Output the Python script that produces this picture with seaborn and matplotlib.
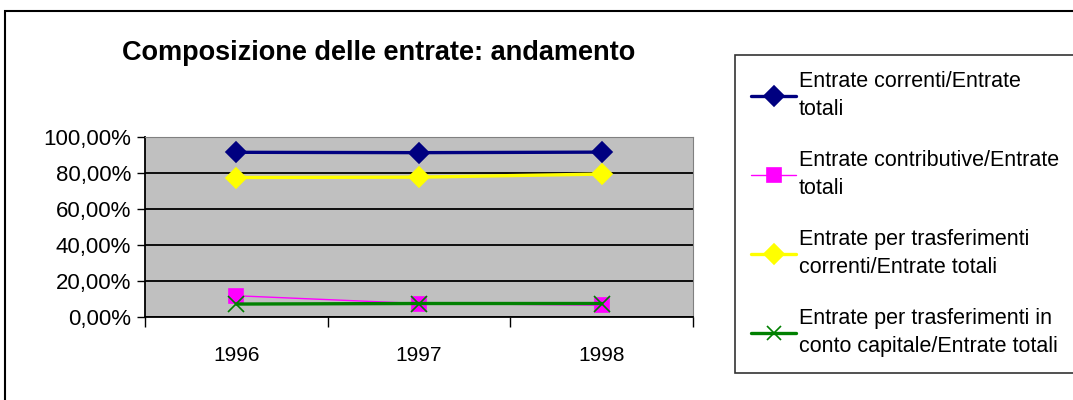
import pandas as pd
import numpy as np
import matplotlib
matplotlib.use('Agg')
import matplotlib.pyplot as plt
import seaborn as sns
from matplotlib.patches import Rectangle
from matplotlib.lines import Line2D
from matplotlib.ticker import FuncFormatter

# ============ DATI ============
anni = ['1996', '1997', '1998']
serie = [
    'Entrate correnti/Entrate\ntotali',
    'Entrate contributive/Entrate\ntotali',
    'Entrate per trasferimenti\ncorrenti/Entrate totali',
    'Entrate per trasferimenti in\nconto capitale/Entrate totali',
]
correnti = [91.5, 91.3, 91.6]
contributive = [11.8, 7.5, 6.6]
trasf_correnti = [77.5, 77.7, 79.4]
trasf_capitale = [7.2, 7.5, 7.5]

colori = ['#000080', '#FF00FF', '#FFFF00', '#008000']
marcatori = ['D', 's', 'D', 'x']
spessori = [2.4, 1.0, 2.4, 2.4]

df = pd.DataFrame({
    'Anno': anni * 4,
    'Valore': correnti + contributive + trasf_correnti + trasf_capitale,
    'Serie': np.repeat(serie, len(anni)),
})

# ============ GRAFICO ============
sns.set_style('white')
plt.rcParams['font.family'] = ['Liberation Sans', 'DejaVu Sans']
plt.rcParams['text.color'] = 'black'
plt.rcParams['xtick.color'] = 'black'
plt.rcParams['ytick.color'] = 'black'

fig = plt.figure(figsize=(10.73, 4), dpi=100)
fig.patches.append(Rectangle((5 / 1073, -0.1), 1.2, 1 - 11 / 400 + 0.1,
                             transform=fig.transFigure, fill=False,
                             edgecolor='black', linewidth=1.5))

ax = fig.add_axes([145 / 1073, 1 - 317 / 400, 548 / 1073, 180 / 400])
ax.set_facecolor('#C0C0C0')

# una serie alla volta (marcatori pieni e "x" non si mescolano in seaborn)
for nome, c, m, lw in zip(serie, colori, marcatori, spessori):
    sub = df[df['Serie'] == nome]
    ms = 12 if m == 'x' else 10
    sns.lineplot(data=sub, x='Anno', y='Valore', color=c, marker=m,
                 markersize=ms, markeredgecolor=c, markeredgewidth=1.2,
                 linewidth=lw, ax=ax, sort=False, legend=False)

ax.set_xlim(-0.5, 2.5)
ax.set_ylim(0, 100)
ax.set_yticks(range(0, 101, 20))
ax.yaxis.set_major_formatter(FuncFormatter(lambda v, p: f'{v:.2f}%'.replace('.', ',')))
ax.set_xticks([0, 1, 2])
ax.set_xticklabels(anni)
ax.set_xticks([-0.5, 0.5, 1.5, 2.5], minor=True)
ax.tick_params(axis='x', which='major', length=0, pad=21, labelsize=15)
ax.tick_params(axis='x', which='minor', length=7, width=1, color='black', direction='out', bottom=True)
ax.tick_params(axis='y', length=6, width=1, color='black', direction='out', labelsize=16, pad=4, left=True)
ax.yaxis.grid(True, color='black', linewidth=1.3)
ax.set_axisbelow(True)
ax.set_xlabel('')
ax.set_ylabel('')
for s in ['left', 'bottom']:
    ax.spines[s].set_color('black')
    ax.spines[s].set_linewidth(1.3)
for s in ['top', 'right']:
    ax.spines[s].set_color('#808080')
    ax.spines[s].set_linewidth(0.8)

fig.text(379 / 1073, 1 - 53 / 400, 'Composizione delle entrate: andamento',
         ha='center', va='center', fontsize=19.5, fontweight='bold')

# legenda
handles = [Line2D([], [], color=c, marker=m, linewidth=lw, markersize=10,
                  markeredgecolor=c, markeredgewidth=1.2)
           for c, m, lw in zip(colori, marcatori, spessori)]
leg = fig.legend(handles, serie, loc='upper left',
                 bbox_to_anchor=(735 / 1073, 1 - 55 / 400),
                 frameon=True, fancybox=False, fontsize=15.5,
                 handlelength=2.1, handletextpad=0.1, labelspacing=1.38,
                 borderpad=0.75, borderaxespad=0)
for t in leg.get_texts():
    t.set_linespacing(1.45)
leg.get_frame().set_edgecolor('black')
leg.get_frame().set_linewidth(1.2)

fig.savefig('out.png', dpi=100)
